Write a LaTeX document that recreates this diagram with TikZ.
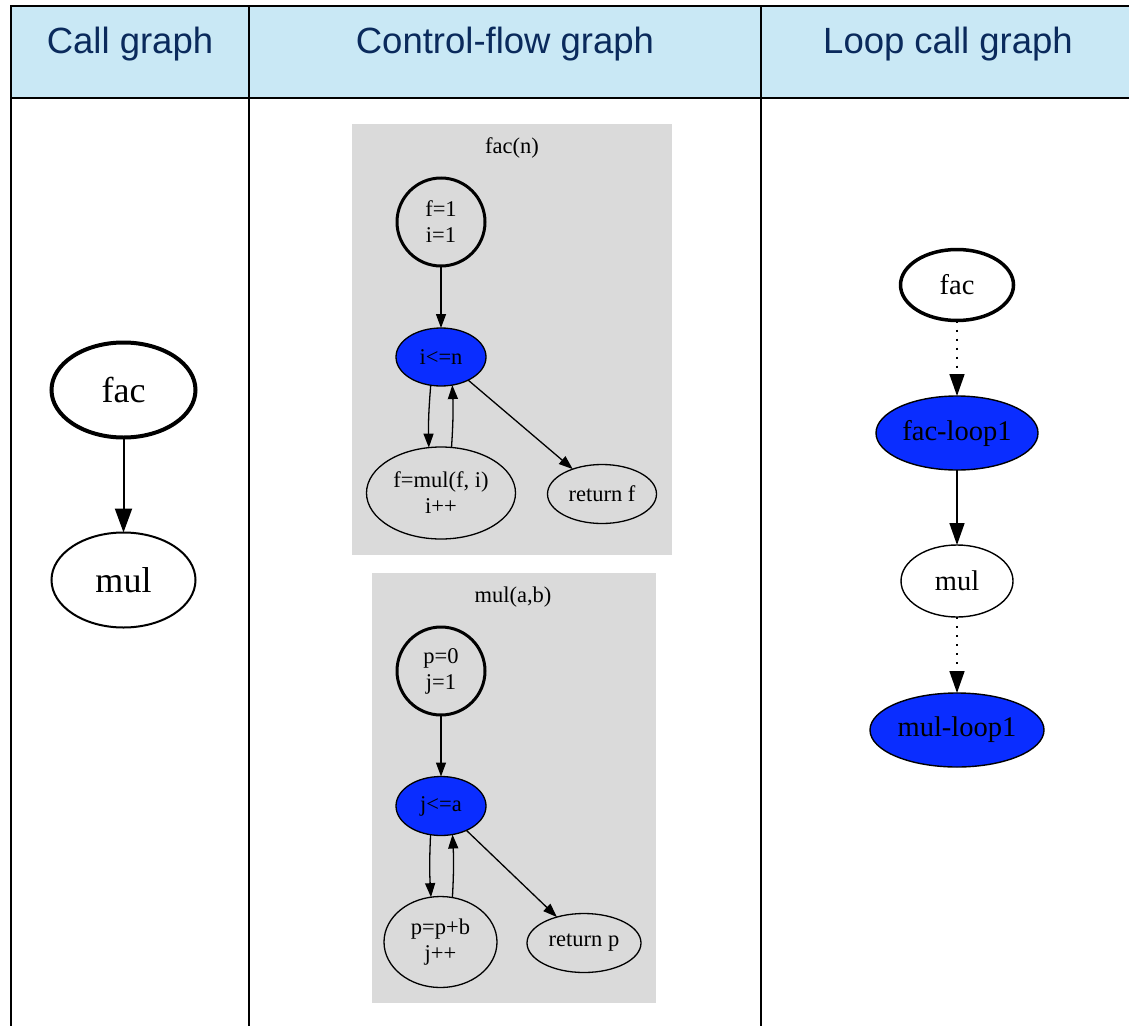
\documentclass[tikz,border=0pt]{standalone}
\usepackage{fontspec}
\setmainfont{Liberation Serif}
\newfontfamily\hdrfont{Liberation Sans}
\usetikzlibrary{shapes.geometric,arrows.meta}
\definecolor{hdrfill}{RGB}{201,232,245}
\definecolor{hdrtext}{RGB}{10,42,92}
\definecolor{loopblue}{RGB}{10,45,255}
\definecolor{clustergray}{RGB}{218,218,218}
\begin{document}
\begin{tikzpicture}[x=1pt,y=-1pt,
  hdr/.style={anchor=base, text=hdrtext, font=\hdrfont\fontsize{36.5}{40}\selectfont, inner sep=0},
  ctitle/.style={anchor=base, inner sep=0, font=\fontsize{22.5}{26}\selectfont},
  cgnode/.style={ellipse, draw, line width=2pt, inner sep=0, outer sep=0, minimum width=144pt, minimum height=95pt, font=\fontsize{36}{40}\selectfont},
  cfgnode/.style={ellipse, draw, line width=1.3pt, inner sep=0, outer sep=0, align=center, font=\fontsize{22.5}{26}\selectfont},
  startnode/.style={circle, draw, line width=3pt, inner sep=0, outer sep=0, minimum size=88pt, align=center, font=\fontsize{22.5}{26}\selectfont},
  lcgnode/.style={ellipse, draw, line width=1.4pt, inner sep=0, outer sep=0, font=\fontsize{28.5}{32}\selectfont},
  bluenode/.style={fill=loopblue},
  cfgarrow/.style={-{Triangle[length=14pt,width=10pt]}, line width=1.3pt},
  cgarrow/.style={-{Triangle[length=24pt,width=17pt]}, line width=2pt},
  lcgarrow/.style={-{Triangle[length=22pt,width=15pt]}, line width=1.6pt},
  lcgdots/.style={lcgarrow, dash pattern=on 2pt off 7pt}
]
\useasboundingbox (0,0) rectangle (1129,1025);
\clip (0,0) rectangle (1129,1025);
\fill[white] (0,0) rectangle (1129,1025);
% table
\fill[hdrfill] (11,6) rectangle (1140,98);
\draw[line width=2.8pt] (11,1040) -- (11,6) -- (1140,6);
\draw[line width=2.8pt] (11,98) -- (1140,98);
\draw[line width=2.8pt] (249,6) -- (249,1040);
\draw[line width=2.8pt] (761,6) -- (761,1040);
\node[hdr] (h1) at (130,53) {Call graph};
\node[hdr] (h2) at (505,53) {Control-flow graph};
\node[hdr] (h3) at (948,53) {Loop call graph};

% call graph
\node[cgnode, line width=4pt] (cgfac) at (123.5,390) {fac};
\node[cgnode] (cgmul) at (123.5,580) {mul};
\draw[cgarrow] (cgfac) -- (cgmul);

% cluster fac(n)
\fill[clustergray] (352,124) rectangle (672,555);
\node[ctitle] (t1) at (512,153) {fac(n)};
\node[startnode] (fstart) at (441,222) {f=1\\i=1};
\node[cfgnode, bluenode, minimum width=90pt, minimum height=58pt] (fcond) at (441,357) {i<=n};
\node[cfgnode, minimum width=149pt, minimum height=92pt] (fbody) at (441,493) {f=mul(f, i)\\i++};
\node[cfgnode, minimum width=109pt, minimum height=59pt] (fret) at (602,494) {return f};
\draw[cfgarrow] (fstart) -- (fcond);
\draw[cfgarrow] (fcond.250) to[bend right=3] (fbody.105);
\draw[cfgarrow] (fbody.77) to[bend right=3] (fcond.292);
\draw[cfgarrow] (fcond) -- (fret);

% cluster mul(a,b)
\fill[clustergray] (372,573) rectangle (656,1003);
\node[ctitle] (t2) at (513,602) {mul(a,b)};
\node[startnode] (mstart) at (441,671) {p=0\\j=1};
\node[cfgnode, bluenode, minimum width=90pt, minimum height=59pt] (mcond) at (441,806) {j<=a};
\node[cfgnode, minimum width=113pt, minimum height=91pt] (mbody) at (440.5,942) {p=p+b\\j++};
\node[cfgnode, minimum width=114pt, minimum height=59pt] (mret) at (584,943) {return p};
\draw[cfgarrow] (mstart) -- (mcond);
\draw[cfgarrow] (mcond.250) to[bend right=3] (mbody.102);
\draw[cfgarrow] (mbody.75) to[bend right=3] (mcond.292);
\draw[cfgarrow] (mcond) -- (mret);

% loop call graph
\node[lcgnode, line width=3.5pt, minimum width=113pt, minimum height=71pt] (lfac) at (957,285) {fac};
\node[lcgnode, bluenode, minimum width=162pt, minimum height=74pt] (lfacloop) at (957,433) {fac-loop1};
\node[lcgnode, minimum width=112pt, minimum height=72pt] (lmul) at (957,581) {mul};
\node[lcgnode, bluenode, minimum width=174pt, minimum height=74pt] (lmulloop) at (957,730) {mul-loop1};
\draw[lcgdots] (lfac) -- (lfacloop);
\draw[lcgarrow] (lfacloop) -- (lmul);
\draw[lcgdots] (lmul) -- (lmulloop);
\end{tikzpicture}
\end{document}
